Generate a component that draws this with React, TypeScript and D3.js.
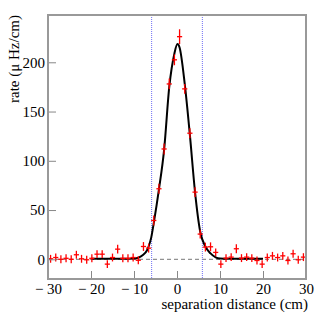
import React, { useRef, useEffect } from 'react';
import * as d3 from 'd3';

// bin centres (cm), 1.2 cm bins
const binCenters = [
  -29.4, -28.2, -27.0, -25.8, -24.6, -23.4, -22.2, -21.0, -19.8, -18.6,
  -17.4, -16.2, -15.0, -13.8, -12.6, -11.4, -10.2, -9.0, -7.8, -6.6,
  -5.4, -4.2, -3.0, -1.8, -0.6, 0.6, 1.8, 3.0, 4.2, 5.4,
  6.6, 7.8, 9.0, 10.2, 11.4, 12.6, 13.8, 15.0, 16.2, 17.4,
  18.6, 19.8, 21.0, 22.2, 23.4, 24.6, 25.8, 27.0, 28.2, 29.4,
];
const rates = [
  0.5, 1.8, 0, 1, 0, 4.6, 0.5, -0.5, 1, 5.2,
  5.2, -4.9, 1.8, 10.3, 1, 1, 1.8, -1, 13, 11.3,
  39.4, 71.6, 112, 178, 202.5, 226, 173, 128, 68.2, 25.6,
  12.4, 12.7, 7, -4.9, 1.2, 2.2, 10.7, 1.2, 2.2, 1.2,
  -1.2, -4.9, 1.8, 3.5, 1.8, 3.5, -1.2, 5.6, -0.5, 2.2,
];
const rateErrors = [
  4, 4, 4, 4, 4, 4, 4, 4, 4, 4,
  4, 4, 4, 4.5, 4, 4, 4, 4, 4.5, 4.5,
  5, 5, 5.5, 5.5, 5.5, 7.5, 5, 5, 5, 4.5,
  4.5, 4.5, 4, 4, 4, 4, 4.5, 4, 4, 4,
  4, 4, 4, 4, 4, 4, 4, 4, 4, 4,
];
const binHalfWidth = 0.6;

// fitted curve (fit range -20..20)
const fitX = [-20, -12, -10, -9, -8, -7, -6.6, -6, -5.4, -4.2, -3, -1.8, -0.6, 0.1, 0.6, 1.8, 3, 4.2, 5.4, 6.6, 7.8, 9, 10, 12, 20];
const fitY = [0.5, 0.5, 0.8, 1.5, 4, 9, 13, 22, 37, 71, 111, 175, 209, 218.5, 215, 178, 126, 68, 28, 13, 6, 2, 0.8, 0.5, 0.5];

const cutLines = [-5.9, 5.9];
const xTicks = [-30, -20, -10, 0, 10, 20, 30];
const yTicks = [0, 50, 100, 150, 200];

function App() {
  const ref = useRef<SVGSVGElement>(null);

  useEffect(() => {
    const svg = d3.select(ref.current);
    svg.selectAll('*').remove();

    const left = 48, right = 306, top = 15, bottom = 279;
    const x = d3.scaleLinear().domain([-30, 30]).range([left, right]);
    const y = d3.scaleLinear().domain([-20, 248]).range([bottom, top]);
    const fmt = (d: number) => (d < 0 ? '\u2212 ' + Math.abs(d) : String(d));
    const font = "'Liberation Serif', 'Times New Roman', serif";

    svg.append('rect').attr('width', 319).attr('height', 319).attr('fill', '#fff');

    // zero line
    svg.append('line')
      .attr('x1', left).attr('x2', right)
      .attr('y1', y(0)).attr('y2', y(0))
      .attr('stroke', '#777').attr('stroke-width', 1).attr('stroke-dasharray', '4 3');

    // cut lines
    svg.selectAll('line.cut')
      .data(cutLines)
      .enter()
      .append('line')
      .attr('class', 'cut')
      .attr('x1', (d) => x(d)).attr('x2', (d) => x(d))
      .attr('y1', top).attr('y2', bottom)
      .attr('stroke', '#6f6ff5').attr('stroke-width', 1).attr('stroke-dasharray', '1 1');

    // fit
    const line = d3.line<number>()
      .x((d, i) => x(fitX[i]))
      .y((d) => y(d))
      .curve(d3.curveMonotoneX);
    svg.append('path')
      .attr('d', line(fitY))
      .attr('fill', 'none')
      .attr('stroke', '#000')
      .attr('stroke-width', 2);

    // data points with error bars
    const pts = svg.append('g').attr('stroke', '#f00').attr('stroke-width', 1.3);
    binCenters.forEach((c, i) => {
      pts.append('line')
        .attr('x1', x(c - binHalfWidth)).attr('x2', x(c + binHalfWidth))
        .attr('y1', y(rates[i])).attr('y2', y(rates[i]));
      pts.append('line')
        .attr('x1', x(c)).attr('x2', x(c))
        .attr('y1', y(rates[i] - rateErrors[i])).attr('y2', y(rates[i] + rateErrors[i]));
    });

    // axes (ticks pointing inwards)
    const xMinor = d3.range(-30, 30.01, 2);
    const yMinor = d3.range(-20, 248, 10);

    const gx = svg.append('g').attr('transform', `translate(0,${bottom})`);
    gx.call(d3.axisBottom(x).tickValues(xMinor).tickSize(-4).tickFormat(() => ''));
    gx.call(d3.axisBottom(x).tickValues(xTicks).tickSize(-8).tickPadding(4).tickFormat((d) => fmt(+d)));

    const gy = svg.append('g').attr('transform', `translate(${left},0)`);
    gy.call(d3.axisLeft(y).tickValues(yMinor).tickSize(-4).tickFormat(() => ''));
    gy.call(d3.axisLeft(y).tickValues(yTicks).tickSize(-8).tickPadding(3).tickFormat((d) => fmt(+d)));

    svg.selectAll('.domain').remove();
    svg.selectAll('.tick line').attr('stroke', '#888').attr('stroke-width', 1);
    svg.selectAll('.tick text')
      .attr('fill', '#000')
      .attr('font-family', font)
      .attr('font-size', 15);

    // frame
    svg.append('rect')
      .attr('x', left).attr('y', top)
      .attr('width', right - left).attr('height', bottom - top)
      .attr('fill', 'none').attr('stroke', '#999').attr('stroke-width', 2);

    // titles
    svg.append('text')
      .attr('x', 308).attr('y', 309)
      .attr('text-anchor', 'end')
      .attr('font-family', font).attr('font-size', 15)
      .text('separation distance (cm)');
    svg.append('text')
      .attr('transform', 'translate(19,15) rotate(-90)')
      .attr('text-anchor', 'end')
      .attr('font-family', font).attr('font-size', 15)
      .text('rate (\u03bc Hz/cm)');
  }, []);

  return <svg ref={ref} width={319} height={319} style={{ position: 'absolute', left: 0, top: 0 }} />;
}

export default App;
